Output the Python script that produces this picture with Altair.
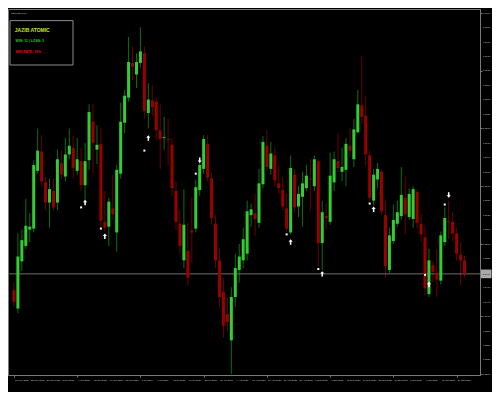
import altair as alt
import pandas as pd

# ---------------- data ----------------
symbol_title = "GBPUSD,Daily"
panel_title = "JAZIB ATOMIC"
panel_line1 = "WIN: 11 | LOSS: 3"
panel_line2 = "WIN RATE: 79%"

opens = [1.2464, 1.2426, 1.2524, 1.2556, 1.2590, 1.2592, 1.2712, 1.2752, 1.2688, 1.2646,
         1.2670, 1.2646, 1.2728, 1.2700, 1.2746, 1.2760, 1.2712, 1.2732, 1.2682, 1.2734,
         1.2814, 1.2756, 1.2768, 1.2606, 1.2596, 1.2634, 1.2584, 1.2706, 1.2812, 1.2864,
         1.2936, 1.2912, 1.2936, 1.2956, 1.2832, 1.2858, 1.2856, 1.2796, 1.2780, 1.2778,
         1.2766, 1.2670, 1.2602, 1.2526, 1.2546, 1.2588, 1.2592, 1.2672, 1.2716, 1.2768,
         1.2696, 1.2602, 1.2526, 1.2460, 1.2414, 1.2360, 1.2450, 1.2506, 1.2526, 1.2540,
         1.2620, 1.2624, 1.2604, 1.2684, 1.2764, 1.2716, 1.2744, 1.2686, 1.2672, 1.2634,
         1.2584, 1.2704, 1.2638, 1.2658, 1.2676, 1.2696, 1.2680, 1.2732, 1.2562, 1.2618,
         1.2606, 1.2688, 1.2732, 1.2710, 1.2714, 1.2764, 1.2736, 1.2792, 1.2848, 1.2826,
         1.2744, 1.2650, 1.2694, 1.2710, 1.2620, 1.2506, 1.2566, 1.2602, 1.2618, 1.2656,
         1.2616, 1.2612, 1.2668, 1.2602, 1.2574, 1.2456, 1.2516, 1.2500, 1.2484, 1.2564,
         1.2608, 1.2606, 1.2582, 1.2538, 1.2526]
highs = [1.2480, 1.2582, 1.2590, 1.2654, 1.2624, 1.2734, 1.2800, 1.2786, 1.2700, 1.2696,
         1.2696, 1.2756, 1.2754, 1.2780, 1.2800, 1.2784, 1.2780, 1.2760, 1.2770, 1.2850,
         1.2850, 1.2806, 1.2800, 1.2670, 1.2656, 1.2704, 1.2724, 1.2854, 1.2880, 1.2990,
         1.2970, 1.2956, 1.3010, 1.2970, 1.2894, 1.2890, 1.2864, 1.2850, 1.2824, 1.2820,
         1.2780, 1.2690, 1.2630, 1.2674, 1.2604, 1.2656, 1.2694, 1.2730, 1.2786, 1.2786,
         1.2710, 1.2620, 1.2550, 1.2490, 1.2450, 1.2470, 1.2540, 1.2560, 1.2594, 1.2650,
         1.2644, 1.2664, 1.2716, 1.2784, 1.2796, 1.2772, 1.2760, 1.2724, 1.2700, 1.2664,
         1.2744, 1.2716, 1.2680, 1.2710, 1.2724, 1.2736, 1.2744, 1.2736, 1.2650, 1.2644,
         1.2750, 1.2752, 1.2790, 1.2760, 1.2780, 1.2800, 1.2820, 1.2880, 1.2950, 1.2866,
         1.2754, 1.2716, 1.2728, 1.2716, 1.2650, 1.2594, 1.2642, 1.2650, 1.2720, 1.2700,
         1.2676, 1.2680, 1.2674, 1.2624, 1.2596, 1.2550, 1.2524, 1.2550, 1.2586, 1.2636,
         1.2650, 1.2626, 1.2594, 1.2564, 1.2536]
lows = [1.2430, 1.2416, 1.2504, 1.2550, 1.2564, 1.2584, 1.2706, 1.2680, 1.2630, 1.2594,
        1.2630, 1.2630, 1.2694, 1.2690, 1.2736, 1.2696, 1.2704, 1.2670, 1.2650, 1.2714,
        1.2706, 1.2726, 1.2590, 1.2586, 1.2556, 1.2610, 1.2544, 1.2696, 1.2790, 1.2856,
        1.2900, 1.2884, 1.2926, 1.2820, 1.2800, 1.2826, 1.2776, 1.2716, 1.2756, 1.2724,
        1.2660, 1.2590, 1.2540, 1.2510, 1.2474, 1.2520, 1.2584, 1.2660, 1.2706, 1.2690,
        1.2600, 1.2510, 1.2430, 1.2366, 1.2380, 1.2290, 1.2430, 1.2480, 1.2510, 1.2526,
        1.2596, 1.2576, 1.2594, 1.2676, 1.2710, 1.2704, 1.2680, 1.2664, 1.2630, 1.2586,
        1.2580, 1.2626, 1.2616, 1.2596, 1.2670, 1.2630, 1.2670, 1.2514, 1.2506, 1.2590,
        1.2600, 1.2670, 1.2710, 1.2690, 1.2680, 1.2740, 1.2720, 1.2790, 1.2810, 1.2724,
        1.2650, 1.2640, 1.2676, 1.2620, 1.2490, 1.2500, 1.2560, 1.2596, 1.2610, 1.2580,
        1.2610, 1.2594, 1.2594, 1.2566, 1.2454, 1.2450, 1.2480, 1.2450, 1.2476, 1.2556,
        1.2570, 1.2566, 1.2526, 1.2474, 1.2490]
closes = [1.2440, 1.2534, 1.2568, 1.2598, 1.2596, 1.2724, 1.2754, 1.2690, 1.2646, 1.2674,
          1.2636, 1.2736, 1.2704, 1.2746, 1.2764, 1.2718, 1.2736, 1.2682, 1.2732, 1.2834,
          1.2770, 1.2766, 1.2608, 1.2594, 1.2648, 1.2622, 1.2714, 1.2814, 1.2868, 1.2938,
          1.2928, 1.2938, 1.2960, 1.2836, 1.2860, 1.2844, 1.2796, 1.2778, 1.2782, 1.2776,
          1.2676, 1.2606, 1.2556, 1.2600, 1.2490, 1.2584, 1.2678, 1.2724, 1.2778, 1.2698,
          1.2614, 1.2526, 1.2450, 1.2390, 1.2398, 1.2450, 1.2510, 1.2534, 1.2570, 1.2628,
          1.2632, 1.2612, 1.2686, 1.2772, 1.2720, 1.2748, 1.2692, 1.2676, 1.2638, 1.2592,
          1.2718, 1.2636, 1.2664, 1.2686, 1.2702, 1.2694, 1.2736, 1.2562, 1.2626, 1.2614,
          1.2702, 1.2736, 1.2718, 1.2720, 1.2768, 1.2754, 1.2798, 1.2850, 1.2824, 1.2746,
          1.2656, 1.2704, 1.2716, 1.2628, 1.2514, 1.2578, 1.2610, 1.2626, 1.2662, 1.2622,
          1.2664, 1.2674, 1.2604, 1.2580, 1.2468, 1.2526, 1.2502, 1.2486, 1.2578, 1.2614,
          1.2606, 1.2582, 1.2540, 1.2526, 1.2498]

current_price = 1.2498

dot_index = [17, 22, 33, 46, 69, 77, 90, 104, 109]
dot_price = [1.2636, 1.2592, 1.2754, 1.2706, 1.2580, 1.2508, 1.2644, 1.2496, 1.2642]
up_arrow_index = [18, 23, 34, 70, 78, 91, 105]
up_arrow_price = [1.2646, 1.2576, 1.2780, 1.2564, 1.2498, 1.2632, 1.2476]
down_arrow_index = [47, 110]
down_arrow_price = [1.2734, 1.2662]

date_ticks = [0, 4, 8, 12, 16, 20, 24, 28, 32, 36, 40, 44, 48, 52, 56, 60, 64, 68, 72,
              76, 80, 84, 88, 92, 96, 100, 104, 108, 112]
date_labels = ["18 May 2020", "22 May 2020", "28 May 2020", "3 Jun 2020", "9 Jun 2020",
               "15 Jun 2020", "19 Jun 2020", "25 Jun 2020", "1 Jul 2020", "7 Jul 2020",
               "13 Jul 2020", "17 Jul 2020", "23 Jul 2020", "29 Jul 2020", "4 Aug 2020",
               "10 Aug 2020", "14 Aug 2020", "20 Aug 2020", "26 Aug 2020", "1 Sep 2020",
               "7 Sep 2020", "11 Sep 2020", "17 Sep 2020", "23 Sep 2020", "29 Sep 2020",
               "5 Oct 2020", "9 Oct 2020", "15 Oct 2020", "21 Oct 2020"]
price_ticks = [1.3040, 1.3010, 1.2980, 1.2950, 1.2920, 1.2890, 1.2860, 1.2830, 1.2800,
               1.2770, 1.2740, 1.2710, 1.2680, 1.2650, 1.2620, 1.2590, 1.2560, 1.2530,
               1.2470, 1.2440, 1.2410, 1.2380, 1.2350, 1.2320, 1.2290]

# ---------------- styling ----------------
W, H = 472, 366
GREEN = "#32cd32"
RED = "#9a0000"
GREEN_WICK = "#0c6e0c"
RED_WICK = "#6a0000"
GRAY = "#7a7a7a"
LABEL = "#c8c8c8"
FONT = "Liberation Sans"
SMALL = 2.4

x_scale = alt.Scale(domain=[-0.24, 116.65], nice=False, zero=False)
y_scale = alt.Scale(domain=[1.2288, 1.3048], nice=False, zero=False)

x_axis = alt.Axis(values=date_ticks, labels=False, tickSize=2, tickColor=GRAY,
                  domainColor=GRAY, grid=False, title="")
y_axis = alt.Axis(orient="right", values=price_ticks, labels=False, tickSize=2,
                  tickColor=GRAY, domainColor=GRAY, grid=False, title="")

df = pd.DataFrame({"i": list(range(len(opens))), "open": opens, "high": highs,
                   "low": lows, "close": closes})
base = alt.Chart(df)
up_f = "datum.close >= datum.open"
dn_f = "datum.close < datum.open"

wick_up = base.transform_filter(up_f).mark_rule(color=GREEN_WICK, strokeWidth=1, clip=True).encode(
    x=alt.X("i:Q", scale=x_scale, axis=x_axis),
    y=alt.Y("low:Q", scale=y_scale, axis=y_axis),
    y2="high:Q")
wick_dn = base.transform_filter(dn_f).mark_rule(color=RED_WICK, strokeWidth=1, clip=True).encode(
    x=alt.X("i:Q", scale=x_scale), y=alt.Y("low:Q", scale=y_scale), y2="high:Q")

cur_df = pd.DataFrame({"p": [current_price]})
price_line = alt.Chart(cur_df).mark_rule(color="#6c6c6c", strokeWidth=1).encode(
    y=alt.Y("p:Q", scale=y_scale))

body_up = base.transform_filter(up_f).mark_bar(color=GREEN, size=3, clip=True).encode(
    x=alt.X("i:Q", scale=x_scale), y=alt.Y("open:Q", scale=y_scale), y2="close:Q")
body_dn = base.transform_filter(dn_f).mark_bar(color=RED, size=3, clip=True).encode(
    x=alt.X("i:Q", scale=x_scale), y=alt.Y("open:Q", scale=y_scale), y2="close:Q")

dots = alt.Chart(pd.DataFrame({"i": dot_index, "p": dot_price})).mark_square(
    color="white", size=4, opacity=1).encode(
    x=alt.X("i:Q", scale=x_scale), y=alt.Y("p:Q", scale=y_scale))

UP_PATH = "M0,-1L0.75,-0.1L0.28,-0.1L0.28,1L-0.28,1L-0.28,-0.1L-0.75,-0.1Z"
DOWN_PATH = "M0,1L0.75,0.1L0.28,0.1L0.28,-1L-0.28,-1L-0.28,0.1L-0.75,0.1Z"
up_arrows = alt.Chart(pd.DataFrame({"i": up_arrow_index, "p": up_arrow_price})).mark_point(
    shape=UP_PATH, filled=True, color="white", size=30, opacity=1).encode(
    x=alt.X("i:Q", scale=x_scale), y=alt.Y("p:Q", scale=y_scale))
down_arrows = alt.Chart(pd.DataFrame({"i": down_arrow_index, "p": down_arrow_price})).mark_point(
    shape=DOWN_PATH, filled=True, color="white", size=30, opacity=1).encode(
    x=alt.X("i:Q", scale=x_scale), y=alt.Y("p:Q", scale=y_scale))

# axis labels as text marks
y_labels = alt.Chart(pd.DataFrame({"p": price_ticks})).mark_text(
    align="left", baseline="middle", fontSize=SMALL, font=FONT, color=LABEL).encode(
    x=alt.value(W + 3), y=alt.Y("p:Q", scale=y_scale), text=alt.Text("p:Q", format=".4f"))
x_labels = alt.Chart(pd.DataFrame({"i": date_ticks, "d": date_labels})).mark_text(
    align="left", baseline="top", dx=1, fontSize=SMALL, font=FONT, color=LABEL).encode(
    x=alt.X("i:Q", scale=x_scale), y=alt.value(H + 4), text="d:N")

price_box = alt.Chart(cur_df).transform_calculate(
    top="datum.p + 0.0009", bot="datum.p - 0.0009").mark_rect(
    fill="#a9a9a9").encode(
    x=alt.value(W + 1), x2=alt.value(W + 11.5),
    y=alt.Y("top:Q", scale=y_scale), y2="bot:Q")
price_text = alt.Chart(cur_df).mark_text(
    align="left", baseline="middle", fontSize=SMALL, font=FONT, color="black").encode(
    x=alt.value(W + 2.5), y=alt.Y("p:Q", scale=y_scale), text=alt.Text("p:Q", format=".4f"))

one = pd.DataFrame({"a": [0]})
panel = alt.Chart(one).mark_rect(fill="black", stroke="#8c8c8c", strokeWidth=1).encode(
    x=alt.value(2), x2=alt.value(65), y=alt.value(11.6), y2=alt.value(56))
t0 = alt.Chart(one).mark_text(align="left", baseline="middle", fontSize=SMALL, font=FONT,
                              color="#bdbdbd").encode(
    x=alt.value(3), y=alt.value(4), text=alt.value(symbol_title))
t1 = alt.Chart(one).mark_text(align="left", baseline="middle", fontSize=5, font=FONT,
                              fontWeight="bold", color="#c6e62f").encode(
    x=alt.value(6.8), y=alt.value(20.6), text=alt.value(panel_title))
t2 = alt.Chart(one).mark_text(align="left", baseline="middle", fontSize=3.4, font=FONT,
                              fontWeight="bold", color="#22d322").encode(
    x=alt.value(7.6), y=alt.value(31.8), text=alt.value(panel_line1))
t3 = alt.Chart(one).mark_text(align="left", baseline="middle", fontSize=3.4, font=FONT,
                              fontWeight="bold", color="#e01010").encode(
    x=alt.value(7.6), y=alt.value(43.3), text=alt.value(panel_line2))

chart = alt.layer(
    wick_up, wick_dn, price_line, body_up, body_dn, dots, up_arrows, down_arrows,
    y_labels, x_labels, price_box, price_text, panel, t0, t1, t2, t3
).properties(
    width=W, height=H,
    autosize=alt.AutoSizeParams(type="none"),
    padding={"left": 0, "top": 1, "right": 12, "bottom": 17},
).configure(background="black").configure_view(stroke=GRAY, strokeWidth=1)

chart.save("out.html", embed_options={"renderer": "svg", "actions": False})
